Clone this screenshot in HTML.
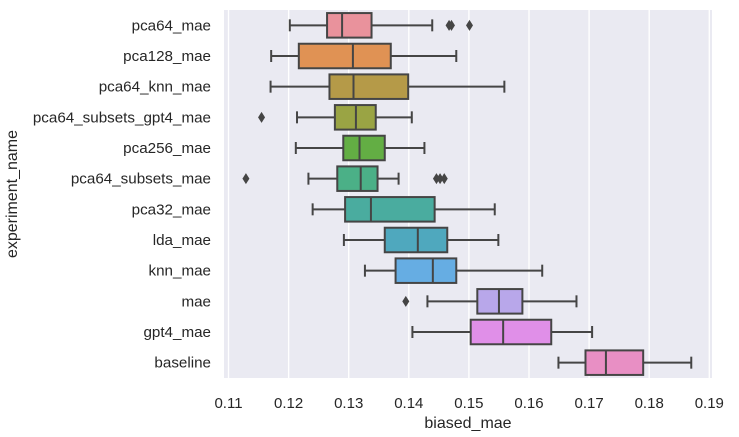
<!DOCTYPE html>
<html><head><meta charset="utf-8"><style>
body{margin:0;background:#fff;}
svg{display:block;font-family:"Liberation Sans","DejaVu Sans",sans-serif;}
</style></head><body>
<svg id="chart" width="739" height="437"></svg>
<script>
const categories=["pca64_mae","pca128_mae","pca64_knn_mae","pca64_subsets_gpt4_mae","pca256_mae","pca64_subsets_mae","pca32_mae","lda_mae","knn_mae","mae","gpt4_mae","baseline"];
const whiskLow=[0.1202,0.1171,0.1170,0.1214,0.1212,0.1233,0.1240,0.1292,0.1327,0.1431,0.1406,0.1649];
const q1=[0.1264,0.1217,0.1268,0.1277,0.1291,0.1281,0.1294,0.1360,0.1378,0.1514,0.1503,0.1694];
const medians=[0.1289,0.1307,0.1308,0.1312,0.1318,0.1320,0.1337,0.1415,0.1440,0.1550,0.1557,0.1728];
const q3=[0.1338,0.1370,0.1399,0.1345,0.1360,0.1348,0.1443,0.1464,0.1479,0.1589,0.1637,0.1790];
const whiskHigh=[0.1439,0.1479,0.1559,0.1405,0.1426,0.1383,0.1543,0.1549,0.1622,0.1679,0.1705,0.1870];
const outliers=[[0.1467,0.1471,0.1501],[],[],[0.1155],[],[0.1129,0.1446,0.1452,0.1459],[],[],[],[0.1395],[],[]];
const colors=["#e9929c","#e09254","#b59a48","#9aa444","#63ae44","#4bb087","#4aac9f","#4fa8be","#66ade3","#b8a7ea","#e08fe8","#e88fc4"];
const xTicks=[0.11,0.12,0.13,0.14,0.15,0.16,0.17,0.18,0.19];

const svg=document.getElementById('chart');
const NS='http://www.w3.org/2000/svg';
const L=224,R=712,T=10,B=378;
const x=v=>228.5+(v-0.11)*6010;
const band=(B-T)/categories.length;
const yc=i=>T+band*(i+0.5);
function mk(tag,attrs,parent){const e=document.createElementNS(NS,tag);for(const k in attrs)e.setAttribute(k,attrs[k]);(parent||svg).appendChild(e);return e;}

const bg=mk('rect',{x:L,y:T,width:R-L,height:B-T,fill:'#eaeaf2'});


xTicks.forEach(t=>{
  const g=mk('line',{x1:x(t),x2:x(t),y1:T,y2:B,stroke:'#fff','stroke-width':1.3});
  
  
  const tx=mk('text',{x:x(t),y:408,'text-anchor':'middle','font-size':15,fill:'#262626'});
  tx.textContent=t.toFixed(2);
  
  
});
const st='#454545';
categories.forEach((c,i)=>{
  const y=yc(i),h=band*0.8;
  const g=mk('g',{});
  
  
  mk('line',{x1:x(whiskLow[i]),x2:x(q1[i]),y1:y,y2:y,stroke:st,'stroke-width':2},g);
  mk('line',{x1:x(q3[i]),x2:x(whiskHigh[i]),y1:y,y2:y,stroke:st,'stroke-width':2},g);
  mk('line',{x1:x(whiskLow[i]),x2:x(whiskLow[i]),y1:y-6,y2:y+6,stroke:st,'stroke-width':2},g);
  mk('line',{x1:x(whiskHigh[i]),x2:x(whiskHigh[i]),y1:y-6,y2:y+6,stroke:st,'stroke-width':2},g);
  mk('rect',{x:x(q1[i]),y:y-h/2,width:x(q3[i])-x(q1[i]),height:h,fill:colors[i],stroke:st,'stroke-width':2},g);
  mk('line',{x1:x(medians[i]),x2:x(medians[i]),y1:y-h/2,y2:y+h/2,stroke:st,'stroke-width':2},g);
  outliers[i].forEach(o=>{
    const p=mk('path',{d:`M${x(o)},${y-5.5} L${x(o)+3.5},${y} L${x(o)},${y+5.5} L${x(o)-3.5},${y} Z`,fill:st},g);
    
    
  });
  const lb=mk('text',{x:211,y:y+5,'text-anchor':'end','font-size':15.2,fill:'#262626'});
  lb.textContent=c;
  
  
});
const xt=mk('text',{x:468,y:428,'text-anchor':'middle','font-size':16,fill:'#262626'});
xt.textContent='biased_mae';


const yt=mk('text',{x:0,y:0,'text-anchor':'middle','font-size':16,fill:'#262626',transform:`translate(17,${(T+B)/2}) rotate(-90)`});
yt.textContent='experiment_name';


</script>
</body></html>
